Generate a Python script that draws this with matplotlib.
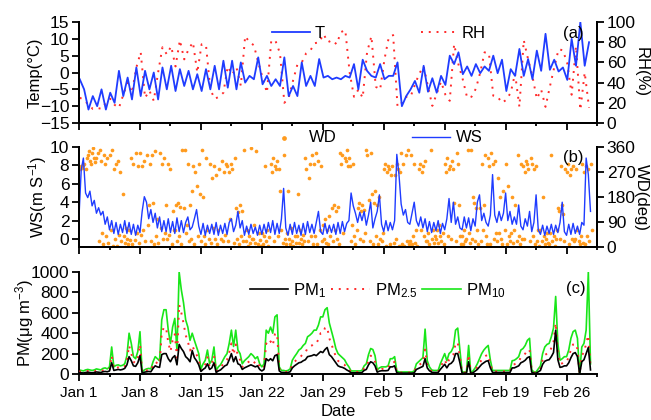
import numpy as np
import pandas as pd
import matplotlib
matplotlib.use("Agg")
import matplotlib.pyplot as plt

plt.rcParams['font.family'] = ['Liberation Sans', 'DejaVu Sans']
plt.rcParams['mathtext.fontset'] = 'custom'
plt.rcParams['mathtext.rm'] = 'Liberation Sans'
plt.rcParams['mathtext.it'] = 'Liberation Sans:italic'
plt.rcParams['font.size'] = 12

# ---- data ----
# T and RH: two samples per day (02:00 and 14:00)
temp = [-2, -5, -11, -7, -10, -5, -11, -6, -9, 0.5, -7, -1.5, -8, 1.5, -7, 0.5,
        -5, 0, -8, 1.5, -5, 2, -5.5, 1, -4, 0.5, -5, -0.5, -5.5, 1, -5, 2,
        -5, 3.5, -4.5, 3.5, -5, 3, -3, -1, -2, 4.5, -3.5, -1, -4, -2, -4, 4.5,
        -7, -4, -7, 3, -4, -1, -4, 4, -1.5, -1, -2, -1.5, -2, -1, -1.5, 2.5,
        -5, 3.8, 0.5, -1, -1.5, 2.5, -2, -1, -1, 3, -10, -7, -5, -2.5, -6, 2,
        -5.7, -1.7, -6, -1, -3.7, 5, 2.5, 6, -0.5, 1.8, -1, 2.5, -0.2, 1.8, 0.5, 5,
        -0.2, 3.8, -5.5, 1, -1, 7, -1, 4, -2, 6.5, 0.5, 11.5, 0.8, 3.8, 0.3, 1.5,
        -2.2, 10, 2, 15, 2, 9]
rh = [25, 23, 18, 14, 15, 14, 20, 24, 18, 15, 28, 40, 30, 55, 70, 25,
      32, 22, 50, 75, 68, 76, 56, 82, 63, 73, 80, 50, 78, 77, 33, 24,
      26, 30, 56, 48, 55, 37, 86, 80, 77, 60, 45, 30, 82, 81, 69, 20,
      25, 42, 58, 60, 69, 72, 79, 80, 88, 80, 82, 78, 90, 92, 50, 26,
      33, 25, 70, 86, 36, 33, 63, 85, 87, 16, 20, 26, 26, 38, 49, 56,
      36, 17, 29, 41, 28, 22, 78, 58, 43, 25, 26, 34, 50, 70, 69, 27,
      26, 20, 23, 30, 49, 16, 82, 63, 46, 24, 33, 16, 36, 55, 73, 72,
      59, 28, 76, 13, 50, 15]

# WS and PM: four samples per day (00, 06, 12, 18 h)
ws = [2.5, 7.5, 8.8, 5.0, 4.5, 5.2, 3.6, 4.2, 2.8, 3.4, 2.6, 3.0, 1.6, 2.4, 1.0, 2.0,
      0.6, 1.8, 0.5, 1.6, 0.7, 2.0, 0.6, 1.8, 0.5, 1.6, 0.4, 1.5, 0.7, 3.0, 4.6, 4.0,
      2.2, 3.2, 1.8, 2.8, 1.2, 2.4, 0.8, 2.0, 0.8, 2.2, 0.7, 1.9, 0.6, 2.3, 0.8, 2.0,
      0.7, 1.8, 2.4, 1.0, 1.3, 2.2, 3.2, 1.4, 0.5, 1.7, 0.4, 1.5, 0.6, 1.6, 0.5, 1.8,
      0.4, 1.5, 0.6, 1.7, 0.5, 1.8, 2.2, 0.8, 1.5, 3.0, 1.2, 2.0, 0.4, 1.4, 0.5, 1.6,
      0.6, 1.3, 0.4, 1.5, 0.5, 1.6, 0.6, 1.8, 0.7, 2.0, 0.5, 1.7, 0.6, 2.2, 5.5, 1.2,
      0.4, 1.6, 0.5, 1.8, 0.6, 1.5, 0.4, 1.7, 0.5, 1.9, 0.7, 1.6, 0.6, 1.8, 3.0, 0.8,
      0.5, 1.7, 0.6, 1.5, 0.7, 1.6, 0.5, 1.8, 0.6, 1.9, 0.8, 1.7, 2.0, 5.0, 3.6, 2.8,
      1.8, 2.9, 2.0, 3.0, 1.5, 2.6, 4.0, 1.2, 2.2, 3.0, 4.8, 1.6, 0.8, 2.0, 0.9, 1.8,
      1.0, 2.0, 9.2, 7.0, 3.8, 2.6, 3.2, 1.8, 1.6, 2.8, 4.0, 2.0, 1.4, 2.4, 1.2, 2.2,
      0.8, 1.9, 0.7, 1.8, 0.9, 2.0, 0.6, 1.7, 1.0, 2.2, 4.4, 1.8, 4.0, 1.6, 2.4, 1.2,
      1.0, 2.4, 1.2, 2.3, 0.9, 2.2, 1.4, 4.0, 4.8, 2.0, 2.8, 1.8, 1.4, 2.6, 7.0, 2.6,
      1.8, 3.0, 2.0, 2.8, 5.0, 2.0, 3.0, 1.6, 2.4, 1.6, 3.7, 1.4, 1.0, 2.2, 1.4, 3.0,
      0.8, 1.8, 4.8, 1.0, 0.5, 1.5, 0.4, 1.4, 0.6, 1.6, 0.5, 1.5, 0.7, 1.8, 4.0, 0.8,
      0.4, 1.6, 0.5, 1.7, 0.6, 1.4, 0.5, 1.8, 1.5, 8.8, 7.0, 3.0]
pm10 = [40, 35, 30, 40, 45, 40, 35, 40, 50, 45, 40, 55, 60, 50, 70, 265,
        70, 85, 90, 80, 85, 100, 180, 400, 300, 170, 150, 220, 415, 20, 40, 50,
        55, 50, 120, 170, 150, 130, 530, 630, 630, 430, 300, 460, 545, 230, 1000, 825,
        700, 530, 460, 330, 400, 330, 265, 200, 50, 100, 135, 235, 100, 135, 265, 35,
        70, 90, 130, 170, 200, 300, 430, 270, 430, 235, 200, 100, 130, 150, 170, 200,
        180, 150, 170, 100, 70, 100, 430, 400, 460, 400, 560, 580, 70, 35, 35, 30,
        35, 50, 135, 170, 200, 235, 250, 280, 300, 365, 380, 400, 430, 430, 480, 560,
        560, 630, 650, 500, 420, 340, 250, 200, 180, 160, 140, 100, 70, 30, 30, 30,
        30, 30, 35, 80, 100, 190, 250, 240, 180, 40, 60, 70, 70, 70, 80, 150,
        150, 170, 30, 20, 20, 20, 20, 20, 20, 20, 30, 100, 120, 140, 160, 440,
        130, 70, 40, 35, 35, 35, 100, 150, 200, 130, 200, 220, 265, 430, 450, 235,
        20, 20, 20, 280, 10, 30, 60, 100, 150, 200, 235, 260, 280, 135, 35, 35,
        35, 35, 35, 35, 35, 35, 35, 130, 135, 150, 170, 235, 250, 280, 330, 350,
        40, 20, 20, 50, 80, 200, 265, 290, 300, 365, 450, 760, 300, 135, 150, 170,
        170, 235, 350, 415, 430, 350, 0, 265, 300, 430, 1000, 100]
pm25 = [25, 22, 20, 25, 30, 25, 22, 25, 32, 28, 25, 35, 40, 35, 45, 180,
        50, 60, 65, 55, 60, 75, 130, 280, 200, 120, 110, 160, 290, 12, 28, 35,
        38, 35, 85, 120, 105, 95, 400, 460, 450, 310, 220, 330, 390, 160, 680, 600,
        500, 380, 320, 230, 280, 230, 190, 140, 35, 70, 95, 165, 70, 95, 180, 25,
        50, 65, 90, 120, 140, 210, 300, 190, 290, 165, 140, 70, 90, 105, 120, 140,
        125, 105, 120, 70, 50, 70, 300, 280, 320, 280, 390, 400, 50, 25, 25, 20,
        25, 35, 95, 120, 140, 165, 175, 200, 210, 255, 270, 280, 300, 300, 340, 400,
        400, 450, 460, 350, 290, 230, 170, 130, 110, 100, 90, 60, 45, 20, 20, 20,
        20, 20, 25, 55, 70, 130, 180, 170, 120, 28, 42, 50, 50, 50, 55, 105,
        105, 120, 20, 14, 14, 14, 14, 14, 14, 14, 20, 70, 85, 100, 110, 240,
        90, 50, 28, 25, 25, 25, 70, 105, 140, 90, 140, 160, 190, 300, 310, 160,
        14, 14, 14, 190, 7, 20, 42, 70, 105, 140, 165, 180, 190, 95, 25, 25,
        25, 25, 25, 25, 25, 25, 25, 90, 95, 105, 120, 165, 175, 200, 230, 240,
        28, 14, 14, 35, 55, 140, 185, 200, 210, 255, 315, 500, 210, 95, 105, 120,
        120, 165, 240, 290, 300, 245, 0, 185, 210, 300, 380, 70]
pm1 = [15, 12, 10, 15, 18, 15, 12, 15, 20, 18, 15, 22, 25, 22, 30, 110,
       35, 40, 45, 40, 45, 55, 90, 170, 130, 80, 75, 110, 180, 8, 18, 22,
       25, 22, 55, 80, 70, 65, 190, 200, 200, 150, 120, 160, 180, 90, 290, 250,
       220, 170, 150, 120, 230, 160, 130, 90, 25, 45, 60, 100, 45, 60, 110, 15,
       30, 40, 60, 80, 90, 140, 200, 120, 170, 100, 90, 45, 60, 70, 80, 90,
       80, 70, 80, 45, 30, 45, 150, 130, 150, 130, 180, 190, 30, 15, 15, 12,
       15, 22, 60, 80, 95, 110, 115, 130, 140, 170, 175, 180, 190, 180, 200, 220,
       210, 240, 260, 190, 170, 140, 110, 80, 70, 65, 55, 40, 28, 12, 12, 12,
       12, 12, 15, 35, 45, 90, 120, 110, 80, 18, 28, 32, 32, 32, 35, 70,
       70, 80, 12, 8, 8, 8, 8, 8, 8, 8, 12, 45, 55, 65, 75, 150,
       60, 32, 18, 15, 15, 15, 45, 70, 95, 60, 95, 105, 130, 200, 200, 110,
       8, 8, 8, 120, 4, 12, 28, 45, 70, 95, 110, 125, 130, 60, 15, 15,
       15, 15, 15, 15, 15, 15, 15, 60, 60, 70, 80, 110, 120, 135, 160, 170,
       18, 8, 8, 22, 35, 95, 125, 135, 140, 170, 210, 430, 140, 65, 70, 80,
       80, 110, 160, 200, 210, 170, 0, 120, 140, 200, 260, 40]

# WD: eight samples per day (every 3 h)
wd = [285, 280, 290, 285, 295, 300, 280, 320, 330, 345, 310, 300, 340, 355, 320, 305,
      320, 340, 20, 350, 310, 50, 10, 330, 300, 40, 320, 15, 330, 60, 350, 5,
      280, 30, 300, 5, 310, 45, 270, 20, 190, 40, 15, 70, 30, 10, 60, 25,
      320, 10, 300, 25, 340, 50, 290, 15, 340, 45, 290, 60, 310, 20, 330, 80,
      150, 300, 20, 330, 160, 10, 345, 40, 100, 15, 340, 70, 300, 30, 320, 50,
      150, 30, 300, 45, 280, 10, 130, 60, 60, 150, 20, 160, 40, 145, 10, 350,
      140, 350, 50, 80, 300, 20, 150, 30, 200, 290, 10, 270, 220, 40, 300, 190,
      20, 350, 180, 40, 10, 320, 60, 30, 300, 15, 250, 70, 290, 30, 260, 10,
      60, 280, 30, 310, 20, 270, 45, 300, 290, 20, 270, 100, 300, 280, 15, 320,
      140, 30, 125, 10, 150, 40, 130, 20, 350, 20, 60, 5, 40, 15, 355, 30,
      30, 80, 15, 345, 10, 50, 25, 5, 50, 10, 40, 290, 20, 60, 5, 35,
      300, 270, 320, 20, 290, 280, 310, 40, 280, 200, 60, 15, 330, 30, 10, 50,
      200, 30, 10, 70, 20, 5, 40, 15, 40, 190, 15, 60, 30, 10, 45, 20,
      320, 280, 20, 250, 300, 40, 330, 10, 300, 40, 340, 10, 310, 60, 290, 20,
      80, 30, 100, 15, 60, 10, 110, 40, 140, 20, 150, 60, 130, 30, 145, 10,
      340, 300, 330, 50, 320, 310, 350, 290, 320, 290, 20, 80, 300, 40, 10, 60,
      140, 160, 30, 130, 150, 20, 135, 50, 350, 330, 170, 20, 340, 190, 10, 160,
      200, 40, 150, 10, 180, 30, 20, 50, 280, 300, 5, 270, 290, 280, 10, 260,
      290, 15, 260, 30, 300, 280, 5, 270, 340, 10, 300, 5, 330, 20, 350, 10,
      20, 330, 10, 40, 300, 15, 60, 5, 280, 300, 60, 270, 290, 40, 310, 20,
      20, 50, 10, 350, 30, 60, 15, 40, 30, 60, 15, 80, 40, 20, 50, 10,
      300, 270, 320, 40, 280, 290, 30, 310, 280, 160, 20, 340, 300, 150, 40, 10,
      40, 10, 60, 20, 30, 350, 50, 15, 350, 30, 180, 160, 20, 140, 60, 10,
      140, 20, 300, 60, 150, 330, 40, 10, 320, 290, 10, 340, 300, 30, 310, 50,
      20, 250, 50, 180, 30, 10, 200, 60, 300, 10, 220, 40, 20, 50, 180, 15,
      60, 150, 20, 330, 40, 10, 300, 30, 290, 30, 270, 310, 300, 280, 20, 320,
      300, 40, 280, 10, 290, 20, 60, 5, 60, 20, 180, 40, 10, 30, 50, 15,
      10, 50, 330, 20, 40, 5, 30, 60, 140, 130, 30, 290, 150, 120, 20, 280,
      270, 300, 10, 260, 280, 30, 290, 20, 30, 280, 60, 20, 10, 40, 300, 15,
      270, 10, 290, 40, 280, 20, 300, 60]

t2 = pd.date_range('2015-01-01 02:00', periods=len(temp), freq='12h')
t4 = pd.date_range('2015-01-01 00:00', periods=len(ws), freq='6h')
t8 = pd.date_range('2015-01-01 00:00', periods=len(wd), freq='3h')
xticks = pd.date_range('2015-01-01', periods=9, freq='7D')
xminor = xticks + pd.Timedelta(hours=84)
xlabels = [f"{d:%b} {d.day}" for d in xticks]
x0, x1 = pd.Timestamp('2015-01-01'), pd.Timestamp('2015-03-01')

blue = '#1f3cff'
orange = '#ff9b1e'
red = '#ff2a2a'
green = '#19e619'

fig = plt.figure(figsize=(6.51, 4.2), dpi=100)
L, W = 0.1214, 0.7957
axa = fig.add_axes([L, 0.7071, W, 0.2405])
axb = fig.add_axes([L, 0.4119, W, 0.2381])
axc = fig.add_axes([L, 0.1095, W, 0.2429])
axa2 = axa.twinx()
axb2 = axb.twinx()


def style(ax, ax2=None, labels=False):
    for a in [ax, ax2]:
        if a is None:
            continue
        a.spines['top'].set_visible(False)
        for s in ['left', 'right', 'bottom']:
            a.spines[s].set_linewidth(1.4)
        a.tick_params(axis='y', direction='out', width=1.3, length=5, labelsize=12.5, pad=2)
        a.tick_params(axis='x', direction='out', width=1.3, length=5, labelsize=11)
        a.tick_params(axis='x', which='minor', direction='out', width=1.3, length=2.5)
    if ax2 is None:
        ax.spines['right'].set_visible(False)
    ax.set_xlim(x0, x1)
    ax.set_xticks(xticks)
    ax.set_xticks(xminor, minor=True)
    if labels:
        ax.set_xticklabels(xlabels)
    else:
        ax.set_xticklabels([])


def left_label(ax, text, x):
    ax.set_ylabel(text, va='center')
    ax.yaxis.set_label_coords(x, 0.5)


def right_label(ax, text, x):
    ax.set_ylabel(text, rotation=270, va='center')
    ax.yaxis.set_label_coords(x, 0.5)


# (a) temperature and RH
axa2.plot(t2, rh, color=red, lw=1.4, ls=(0, (1, 3)), label='RH')
axa.plot(t2, temp, color=blue, lw=1.3, label='T')
axa.set_zorder(axa2.get_zorder() + 1)
axa.patch.set_visible(False)
axa.set_ylim(-15, 15)
axa.set_yticks([-15, -10, -5, 0, 5, 10, 15])
axa2.set_ylim(0, 100)
axa2.set_yticks([0, 20, 40, 60, 80, 100])
style(axa, axa2)
left_label(axa, 'Temp(°C)', -0.085)
right_label(axa2, 'RH(%)', 1.085)
axa.legend(loc='center left', bbox_to_anchor=(0.372, 0.89), frameon=False,
           handlelength=2.3, handletextpad=0.3, borderpad=0, borderaxespad=0)
axa2.legend(loc='center left', bbox_to_anchor=(0.66, 0.89), frameon=False,
            handlelength=2.3, handletextpad=0.15, borderpad=0, borderaxespad=0)
axa.text(0.935, 0.89, '(a)', transform=axa.transAxes, va='center')

# (b) wind speed and direction
axb2.scatter(t8, wd, s=7, color=orange, lw=0, label='WD')
axb.plot(t4, ws, color=blue, lw=1.0, label='WS')
axb.set_zorder(axb2.get_zorder() + 1)
axb.patch.set_visible(False)
axb.set_ylim(-0.87, 10)
axb.set_yticks([0, 2, 4, 6, 8, 10])
axb2.set_ylim(0, 360)
axb2.set_yticks([0, 90, 180, 270, 360])
style(axb, axb2)
left_label(axb, 'WS(m S$^{-1}$)', -0.08)
right_label(axb2, 'WD(deg)', 1.085)
axb2.legend(loc='center left', bbox_to_anchor=(0.38, 1.09), frameon=False,
            handlelength=1.0, handletextpad=1.0, borderpad=0, borderaxespad=0,
            markerscale=1.3)
axb.legend(loc='center left', bbox_to_anchor=(0.643, 1.09), frameon=False,
           handlelength=2.3, handletextpad=0.3, borderpad=0, borderaxespad=0)
axb.text(0.935, 0.90, '(b)', transform=axb.transAxes, va='center')

# (c) particulate matter
axc.plot(t4, pm10, color=green, lw=1.2, label='PM$_{10}$', zorder=2)
axc.plot(t4, pm25, color=red, lw=1.4, ls=(0, (1, 3)), label='PM$_{2.5}$', zorder=3)
axc.plot(t4, pm1, color='black', lw=1.2, label='PM$_{1}$', zorder=4)
axc.set_ylim(0, 1000)
axc.set_yticks([0, 200, 400, 600, 800, 1000])
style(axc, labels=True)
left_label(axc, 'PM(μg m$^{-3}$)', -0.105)
axc.set_xlabel('Date', labelpad=3)
h, lab = axc.get_legend_handles_labels()
axc.legend(h[::-1], lab[::-1], loc='center left', bbox_to_anchor=(0.33, 0.82),
           ncol=3, frameon=False, handlelength=2.3, handletextpad=0.3,
           columnspacing=0.3, borderpad=0, borderaxespad=0)
axc.text(0.94, 0.84, '(c)', transform=axc.transAxes, va='center')

fig.savefig('out.png', dpi=100)
